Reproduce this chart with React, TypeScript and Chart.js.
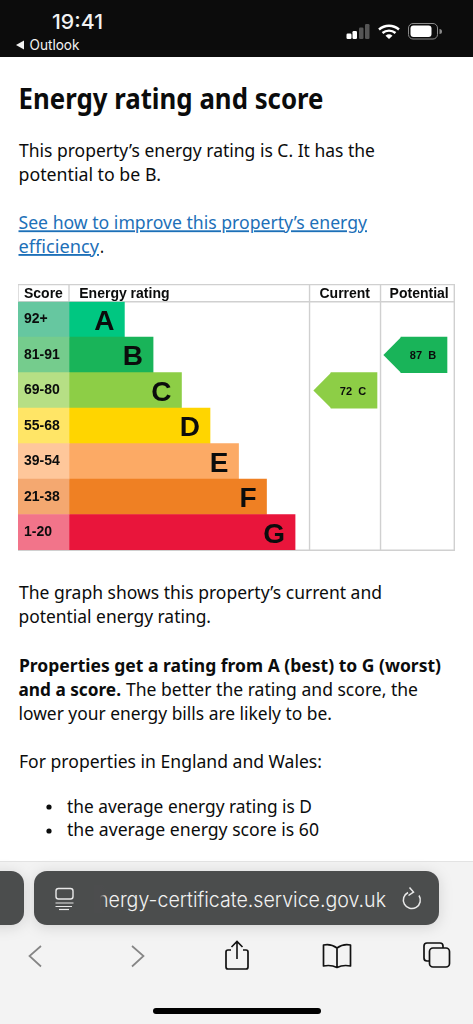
import React, { useEffect, useRef } from "react";
import { Chart, registerables } from "chart.js";

Chart.register(...registerables);

const ratings = ["A", "B", "C", "D", "E", "F", "G"];
const scoreBands = ["92+", "81-91", "69-80", "55-68", "39-54", "21-38", "1-20"];
const bandFloors = [92, 81, 69, 55, 39, 21, 1];
const barLengths = [1.95, 2.96, 3.96, 4.965, 5.97, 6.955, 7.96];
const barColors = ["#00c781", "#19b459", "#8dce46", "#ffd500", "#fcaa65", "#ef8023", "#e9153b"];
const bandColors = ["#66c7a0", "#75cc8d", "#b6df85", "#ffe566", "#fec79b", "#f4a870", "#f2748a"];

const columnHeaders = ["Score", "Energy rating", "Current", "Potential"];
const headerCentres = [-0.9, 1.95, 9.71, 12.33];
const columnRules = [-1.796, 0, 8.47, 10.97, 13.57];

const currentScore = 72;
const potentialScore = 87;
const currentArrow = [9.225, 10.845];
const potentialArrow = [11.69, 13.31];
const arrowHeadLength = 0.62;

const bandIndex = (score: number) => bandFloors.findIndex((floor) => score >= floor);
const arrowData = (score: number, span: number[]) =>
  ratings.map((_, i) => (i === bandIndex(score) ? span : null));

const TEXT = "#0b0c0c";

const epcPlugin = {
  id: "epc",
  beforeDatasetsDraw(chart: any) {
    const { ctx, chartArea, scales } = chart;
    ctx.save();
    ctx.strokeStyle = "#d0d0d0";
    ctx.lineWidth = 1.4;
    const rules = (pts: number[][]) => {
      ctx.beginPath();
      ctx.moveTo(pts[0][0], pts[0][1]);
      ctx.lineTo(pts[1][0], pts[1][1]);
      ctx.stroke();
    };
    columnRules.forEach((v) => {
      const x = Math.min(scales.x.getPixelForValue(v), chart.width - 0.7);
      rules([[x, 0], [x, chartArea.bottom + 0.5]]);
    });
    rules([[0, 0.6], [chart.width, 0.6]]);
    rules([[0, chartArea.top], [chart.width, chartArea.top]]);
    rules([[0, chartArea.bottom + 0.3], [chart.width, chartArea.bottom + 0.3]]);
    ctx.restore();
  },
  afterDatasetsDraw(chart: any) {
    const { ctx, scales } = chart;
    const x = scales.x;
    const bars = chart.getDatasetMeta(1).data;
    ctx.save();
    ctx.fillStyle = TEXT;
    ctx.textBaseline = "alphabetic";
    ctx.textAlign = "right";
    ctx.font = 'bold 28px "Liberation Sans"';
    ratings.forEach((r, i) => {
      const el = bars[i];
      ctx.fillText(r, el.x - 10, el.y + 10.5);
    });
    const arrow = (dsIndex: number, score: number, color: string) => {
      const i = bandIndex(score);
      const el = chart.getDatasetMeta(dsIndex).data[i];
      const left = el.base;
      const half = el.height / 2;
      ctx.fillStyle = color;
      ctx.beginPath();
      ctx.moveTo(left, el.y - half);
      ctx.lineTo(left - (x.getPixelForValue(arrowHeadLength) - x.getPixelForValue(0)), el.y);
      ctx.lineTo(left, el.y + half);
      ctx.closePath();
      ctx.fill();
      ctx.fillStyle = TEXT;
      ctx.textAlign = "center";
      ctx.font = 'bold 11px "Liberation Sans"';
      ctx.fillText(`${score}  ${ratings[i]}`, (el.base + el.x) / 2 - 1, el.y + 4.2);
    };
    arrow(2, currentScore, barColors[bandIndex(currentScore)]);
    arrow(3, potentialScore, barColors[bandIndex(potentialScore)]);
    ctx.restore();
  },
};

const clearPadding = (axis: any) => {
  axis.paddingLeft = 0;
  axis.paddingRight = 0;
  axis.paddingTop = 0;
  axis.paddingBottom = 0;
};

function EpcChart() {
  const ref = useRef<HTMLCanvasElement>(null);
  useEffect(() => {
    const chart = new Chart(ref.current as HTMLCanvasElement, {
      type: "bar",
      data: {
        labels: scoreBands,
        datasets: [
          { label: "Score", data: ratings.map(() => [columnRules[0], 0]), backgroundColor: bandColors, grouped: false } as any,
          { label: "Energy rating", data: barLengths.map((v) => [0, v]), backgroundColor: barColors, grouped: false } as any,
          { label: "Current", data: arrowData(currentScore, currentArrow), backgroundColor: barColors[bandIndex(currentScore)], grouped: false } as any,
          { label: "Potential", data: arrowData(potentialScore, potentialArrow), backgroundColor: barColors[bandIndex(potentialScore)], grouped: false } as any,
        ],
      },
      options: {
        indexAxis: "y",
        animation: false,
        responsive: false,
        layout: { padding: { top: 0, bottom: 1, left: 0, right: 0 } },
        datasets: { bar: { barPercentage: 1, categoryPercentage: 1 } },
        plugins: { legend: { display: false }, tooltip: { enabled: false } },
        scales: {
          x: {
            type: "linear",
            position: "top",
            min: columnRules[0],
            max: 13.592,
            grid: { display: false, drawTicks: false },
            border: { display: false },
            afterBuildTicks: (axis: any) => {
              axis.ticks = headerCentres.map((value) => ({ value }));
            },
            afterFit: (axis: any) => {
              axis.height = 17.7;
              clearPadding(axis);
            },
            ticks: {
              autoSkip: false,
              maxRotation: 0,
              padding: -1,
              color: TEXT,
              font: { family: "Liberation Sans", size: 14, weight: "bold" },
              callback: (value: any) => columnHeaders[headerCentres.indexOf(Number(value))] ?? "",
            },
          },
          y: {
            type: "category",
            position: "left",
            grid: { display: false, drawTicks: false },
            border: { display: false },
            afterFit: (axis: any) => {
              axis.width = 0;
              clearPadding(axis);
            },
            ticks: {
              mirror: true,
              padding: 6,
              z: 1,
              color: TEXT,
              font: { family: "Liberation Sans", size: 14, weight: "bold" },
            },
          },
        },
      } as any,
      plugins: [epcPlugin as any],
    });
    return () => chart.destroy();
  }, []);
  return <canvas ref={ref} width={437} height={267} style={{ position: "absolute", left: 18, top: 284, display: "block" }} />;
}

const BODY = "Noto Sans";
const lines: [string, number, number, number, boolean, string][] = [
  ["This property’s energy rating is C. It has the", 19, 375, 156.7, false, TEXT],
  ["potential to be B.", 18.5, 161, 180.7, false, TEXT],
  ["See how to improve this property’s energy", 18.5, 367, 229.3, false, "#1d70b8"],
  ["efficiency", 18.5, 99, 253, false, "#1d70b8"],
  [".", 100, 104, 253, false, TEXT],
  ["The graph shows this property’s current and", 19, 382, 599, false, TEXT],
  ["potential energy rating.", 18.5, 211, 623, false, TEXT],
  ["Properties get a rating from A (best) to G (worst)", 19, 441, 671.7, true, TEXT],
  ["and a score.", 18.5, 121, 696, true, TEXT],
  ["The better the rating and score, the", 126, 418, 696, false, TEXT],
  ["lower your energy bills are likely to be.", 18.5, 332, 720, false, TEXT],
  ["For properties in England and Wales:", 19, 322, 768, false, TEXT],
  ["the average energy rating is D", 67, 312, 812.7, false, TEXT],
  ["the average energy score is 60", 67, 319, 836, false, TEXT],
];

function PageText() {
  return (
    <svg width={473} height={1024} style={{ position: "absolute", left: 0, top: 0 }}>
      <text x={18.5} y={109} fontFamily={BODY} fontWeight={700} fontSize={28.5} fill={TEXT} textLength={305} lengthAdjust="spacingAndGlyphs">
        Energy rating and score
      </text>
      {lines.map(([t, x1, x2, y, bold, color]) => (
        <text
          key={t}
          x={x1}
          y={y}
          fontFamily={BODY}
          fontWeight={bold ? 700 : 400}
          fontSize={18.5}
          fill={color}
          textLength={x2 - x1}
          lengthAdjust="spacingAndGlyphs"
          style={{ textDecoration: color === "#1d70b8" ? "underline" : "none" }}
        >
          {t}
        </text>
      ))}
      <circle cx={49} cy={807} r={2.6} fill={TEXT} />
      <circle cx={49} cy={831} r={2.6} fill={TEXT} />
    </svg>
  );
}

function Chrome() {
  return (
    <svg width={473} height={1024} style={{ position: "absolute", left: 0, top: 0 }}>
      <defs>
        <filter id="pillShadow" x="-10%" y="-40%" width="120%" height="180%">
          <feDropShadow dx={0} dy={2} stdDeviation={7} floodColor="#000" floodOpacity={0.14} />
        </filter>
        <linearGradient id="fade" x1="0" x2="1" y1="0" y2="0">
          <stop offset="0" stopColor="#4c4d4e" stopOpacity={1} />
          <stop offset="0.45" stopColor="#4c4d4e" stopOpacity={1} />
          <stop offset="1" stopColor="#4c4d4e" stopOpacity={0} />
        </linearGradient>
      </defs>
      {/* status bar */}
      <rect x={0} y={0} width={473} height={57} fill="#0c0c0c" />
      <text x={52} y={29} fontFamily="Inter" fontWeight={500} fontSize={20.5} fill="#f2f2f2" textLength={51} lengthAdjust="spacingAndGlyphs">19:41</text>
      <path d="M16 45 L24 40.5 L24 49.5 Z" fill="#f2f2f2" />
      <text x={29.5} y={50} fontFamily="Inter" fontSize={14.5} fill="#f2f2f2" textLength={50} lengthAdjust="spacingAndGlyphs">Outlook</text>
      <rect x={346.5} y={33.5} width={5} height={5.5} rx={1.2} fill="#fff" />
      <rect x={352.5} y={31} width={4.5} height={8} rx={1.2} fill="#fff" />
      <rect x={359} y={27.5} width={4.5} height={11.5} rx={1.2} fill="#555" />
      <rect x={365} y={24} width={4.5} height={15} rx={1.2} fill="#555" />
      <path d="M379 29.5 A15 15 0 0 1 399 29.5 M382.5 33 A10 10 0 0 1 395.5 33" stroke="#fff" strokeWidth={2.4} fill="none" />
      <path d="M385.5 35.7 A5.5 5.5 0 0 1 392.5 35.7 L389 39 Z" fill="#fff" />
      <rect x={408.5} y={23.5} width={29} height={15.5} rx={4.5} fill="none" stroke="#8a8a8a" strokeWidth={1} />
      <rect x={410.5} y={25.5} width={21} height={11.5} rx={3} fill="#fff" />
      <path d="M439.5 29 A2.5 2.5 0 0 1 439.5 34 Z" fill="#8a8a8a" />
      {/* bottom bar */}
      <rect x={0} y={861} width={473} height={163} fill="#f3f3f3" />
      <rect x={0} y={861} width={473} height={1} fill="#e3e3e3" />
      <rect x={-30} y={871} width={54} height={54} rx={13} fill="#4c4d4e" filter="url(#pillShadow)" />
      <rect x={34} y={871} width={405} height={54} rx={13} fill="#4c4d4e" filter="url(#pillShadow)" />
      <rect x={56} y={888.5} width={17} height={10.5} rx={2.5} fill="none" stroke="#e8e8e8" strokeWidth={1.4} />
      <path d="M55.5 903 H73.5 M55.5 906.5 H72 " stroke="#e8e8e8" strokeWidth={1.2} fill="none" />
      <path d="M59 909.5 H69" stroke="#e8e8e8" strokeWidth={1.2} fill="none" />
      <text x={97} y={906.7} fontFamily="Inter" fontWeight={300} fontSize={20.5} fill="#f2f2f2" textLength={289} lengthAdjust="spacingAndGlyphs">nergy-certificate.service.gov.uk</text>
      <rect x={94} y={885} width={13} height={28} fill="url(#fade)" />
      <path d="M419 895.5 A8.5 8.5 0 1 1 408 892.5" stroke="#eaeaea" strokeWidth={1.5} fill="none" />
      <path d="M409.5 887.5 L413.5 892 L408.5 895.5" stroke="#eaeaea" strokeWidth={1.5} fill="none" />
      {/* toolbar icons */}
      <path d="M41 946 L29.5 956 L41 966.5" stroke="#858585" strokeWidth={1.7} fill="none" />
      <path d="M132 946 L143.5 956 L132 966.5" stroke="#858585" strokeWidth={1.7} fill="none" />
      <path d="M231 950 H228 Q226 950 226 952 V967 Q226 969 228 969 H246 Q248 969 248 967 V952 Q248 950 246 950 H243" stroke="#111" strokeWidth={1.7} fill="none" />
      <path d="M237 959 V942 M231.5 947 L237 941.5 L242.5 947" stroke="#111" strokeWidth={1.6} fill="none" />
      <path d="M337 948 Q331 943.5 323.5 945 V966 Q331 964.5 337 967.5 Q343 964.5 350.5 966 V945 Q343 943.5 337 948 V967.5" stroke="#111" strokeWidth={1.7} fill="none" strokeLinejoin="round" />
      <path d="M429 961 H427 Q424 961 424 958 V946 Q424 943 427 943 H440 Q443 943 443 946 V948" stroke="#111" strokeWidth={1.7} fill="none" />
      <rect x={429.5} y={948} width={20} height={19} rx={3.5} stroke="#111" strokeWidth={1.7} fill="none" />
      <rect x={153} y={1008} width={168} height={6} rx={3} fill="#000" />
    </svg>
  );
}

export default function App() {
  return (
    <div style={{ position: "absolute", left: 0, top: 0, width: 473, height: 1024, overflow: "hidden", background: "#fff" }}>
      <PageText />
      <EpcChart />
      <Chrome />
    </div>
  );
}
